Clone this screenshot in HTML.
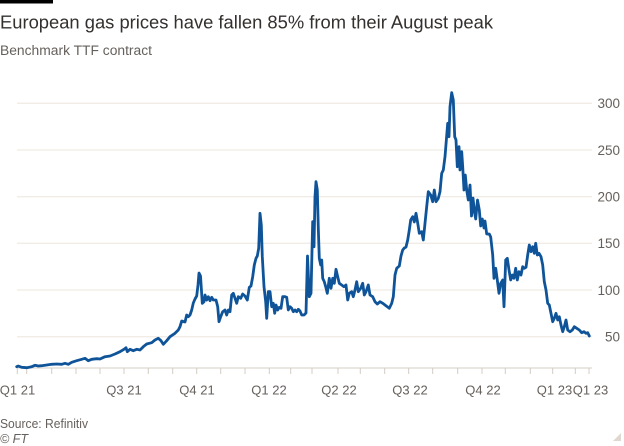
<!DOCTYPE html>
<html>
<head>
<meta charset="utf-8">
<style>
  html, body { margin: 0; padding: 0; background: #ffffff; }
  body { width: 624px; height: 446px; overflow: hidden; }
  svg { display: block; }
  text { font-family: "Liberation Sans", "DejaVu Sans", sans-serif; }
</style>
</head>
<body>
<svg width="624" height="446" viewBox="0 0 624 446" xmlns="http://www.w3.org/2000/svg">
  <rect x="0" y="0" width="624" height="446" fill="#ffffff"/>
  <rect x="0" y="0" width="53" height="3.5" fill="#000000"/>

  <text x="0" y="28.3" font-size="18.5" fill="#33302e" textLength="493" lengthAdjust="spacingAndGlyphs">European gas prices have fallen 85% from their August peak</text>
  <text x="0" y="55" font-size="13.5" fill="#66605c" textLength="152" lengthAdjust="spacingAndGlyphs">Benchmark TTF contract</text>

  <g stroke="#ede5de" stroke-width="1">
    <line x1="17" y1="103.3" x2="592" y2="103.3"/>
    <line x1="17" y1="150" x2="592" y2="150"/>
    <line x1="17" y1="196.7" x2="592" y2="196.7"/>
    <line x1="17" y1="243.3" x2="592" y2="243.3"/>
    <line x1="17" y1="290" x2="592" y2="290"/>
    <line x1="17" y1="336.7" x2="592" y2="336.7"/>
  </g>

  <g font-size="13.5" fill="#66605c" text-anchor="end">
    <text x="620" y="108.2">300</text>
    <text x="620" y="154.9">250</text>
    <text x="620" y="201.6">200</text>
    <text x="620" y="248.2">150</text>
    <text x="620" y="294.9">100</text>
    <text x="620" y="341.6">50</text>
  </g>

  <line x1="17" y1="368" x2="592" y2="368" stroke="#d4ccc4" stroke-width="1"/>
  <g stroke="#d4ccc4" stroke-width="1">
    <line x1="17.3" y1="368" x2="17.3" y2="374"/>
    <line x1="26.7" y1="368" x2="26.7" y2="374"/>
    <line x1="51.7" y1="368" x2="51.7" y2="374"/>
    <line x1="76" y1="368" x2="76" y2="374"/>
    <line x1="100" y1="368" x2="100" y2="374"/>
    <line x1="124" y1="368" x2="124" y2="374"/>
    <line x1="148.3" y1="368" x2="148.3" y2="374"/>
    <line x1="172.7" y1="368" x2="172.7" y2="374"/>
    <line x1="196.7" y1="368" x2="196.7" y2="374"/>
    <line x1="220.7" y1="368" x2="220.7" y2="374"/>
    <line x1="245" y1="368" x2="245" y2="374"/>
    <line x1="269.3" y1="368" x2="269.3" y2="374"/>
    <line x1="290.7" y1="368" x2="290.7" y2="374"/>
    <line x1="312" y1="368" x2="312" y2="374"/>
    <line x1="338" y1="368" x2="338" y2="374"/>
    <line x1="360.3" y1="368" x2="360.3" y2="374"/>
    <line x1="384.7" y1="368" x2="384.7" y2="374"/>
    <line x1="408.7" y1="368" x2="408.7" y2="374"/>
    <line x1="432.7" y1="368" x2="432.7" y2="374"/>
    <line x1="457.7" y1="368" x2="457.7" y2="374"/>
    <line x1="482" y1="368" x2="482" y2="374"/>
    <line x1="505.3" y1="368" x2="505.3" y2="374"/>
    <line x1="530.3" y1="368" x2="530.3" y2="374"/>
    <line x1="552.7" y1="368" x2="552.7" y2="374"/>
    <line x1="575.3" y1="368" x2="575.3" y2="374"/>
    <line x1="589" y1="368" x2="589" y2="374"/>
  </g>

  <g font-size="13" fill="#66605c" text-anchor="middle">
    <text x="17.5" y="394.5">Q1 21</text>
    <text x="124" y="394.5">Q3 21</text>
    <text x="197" y="394.5">Q4 21</text>
    <text x="269" y="394.5">Q1 22</text>
    <text x="339" y="394.5">Q2 22</text>
    <text x="410" y="394.5">Q3 22</text>
    <text x="483" y="394.5">Q4 22</text>
    <text x="554.5" y="394.5">Q1 23</text>
    <text x="590.5" y="394.5">Q1 23</text>
  </g>

  <polyline fill="none" stroke="#0f5499" stroke-width="2.8" stroke-linejoin="round" stroke-linecap="round"
    points="16.7,366.7 18.3,366 21.7,367.3 26.7,367.7 31.7,366.7 35,365.3 38.3,366 41.7,365.7 46.7,365 51.7,364.3 56.7,364 61.7,364.3 65,363.3 68.3,364.3 71.7,362.3 76.7,360.7 81.7,359.3 85,358.3 88.3,360.7 91.7,359.3 96.7,358.7 100,359 105,356.7 110,356 115,354 120,351.7 124,349.3 126,347.7 127.3,351.7 130,349.3 133.3,350.7 136.7,349.3 140,350 143.3,346.7 146.7,344 151.7,342.7 155,340 158.3,338.3 161,340.7 163.3,344.3 166.7,340.7 170,336.7 175,333.3 178.3,330 180,326.7 181.7,321 183.3,321.5 185,322 186.7,315 188.3,316.7 190,315 191.7,310 193.3,303 195,299 196.7,296 198,285 199,273 200.5,276 202.3,303.3 204,301.7 205,295 206.7,300 208.3,296.7 210,300.7 211.7,297.3 213.3,300 216,300 217.7,306.7 219,321.7 220.7,316.7 222.7,311.7 225,310 226.7,315 228.3,310 230,311.7 231.7,295 233.3,293.3 235,298.3 236.7,303.3 238.3,296.7 240.7,298.3 242.7,294 245,296 247.3,300 249.3,287.3 251,286 252.7,276.7 254.3,265 256,258.3 257.3,256 258.7,248.3 260,213.3 261.3,225 262.3,256.7 264,286.7 265.7,301.7 266.7,318.3 268.3,291.7 270,291.7 271.7,306.7 273.3,303.3 274.7,313.3 276,305 277.7,310 279.3,307.3 281,308.3 282.7,296.7 285,296.7 286.7,297.3 288.3,310 290,306.7 291.7,308.3 293.3,311.7 295,310 296.7,311.7 298.3,309.3 300,311 301.7,315 304,315 306,313 307.5,256 309.3,296.7 311,293.3 312.7,221.7 314,246.7 315,196.7 316,181.7 317.3,190 318.3,228.3 319.3,258.3 320.7,265 321.7,260 322.7,278.3 324.3,281.7 325.7,286.7 327.3,293.3 329.3,278.3 331,288.3 332.7,278.3 334.3,283.3 336,269.3 337.7,276.7 339.3,283.3 341.7,285 344,286.7 346,285 347.7,300 349.3,293.3 351.7,291.7 353.3,296.7 355,290 356.7,281.7 358.3,291.7 360.7,288.3 362.7,283.3 364.3,295 366,291.7 368.3,285 370,295 372.7,296.7 375,301.7 377.3,304 380,301.7 382.7,303.3 385,305 387.3,306.7 389.3,308.3 391.7,303.3 393.3,296.7 395,275 396.7,268.3 399.3,266 401,256 402.7,250 404.3,248 406,247 407.7,240 409.3,230 410.7,220 412.7,216.7 414.3,222 416,213.3 417.7,223 419.3,233.3 421.7,231.7 423.3,240 425,223.3 426.7,206.7 428.3,191.7 430.7,195 432.7,201.7 434.3,190 436,201.7 438.3,198.3 440,191.7 441.7,173.3 443.3,170 445,156.7 447.7,123.3 449,136.7 450,106.7 451.7,92.7 453.3,100 454.7,136.7 456,140 457.3,166.7 459,146.7 460,170 461.7,151.7 462.7,166.7 464,190 465.3,175 466.7,190 468.3,200 470,185 471.5,216 473,198 474.5,212 475.7,219 477.5,200 479.3,210 480.7,226 482.3,219 484,228 485,221 486.7,234 489.3,234 490.7,237 492.7,255 494,278.3 495.7,268.3 497.3,280 499,293.3 500.7,283.3 502.7,280 504,306.7 505.7,260 507.3,258.3 509,270 510.7,280 512.3,275 514,278.3 515.7,268.3 517.3,280 519,271.7 521,275 522.7,266.7 524.3,268.3 526,267.3 527.7,255 529.3,245 531,251.7 532.7,246.7 534.3,253.3 535.7,243.3 537.3,255 539,253.3 541,256.7 542.7,265 544.3,281.7 546,290 547.7,303.3 549.3,305 551,313.3 552.7,321.7 554.3,318.3 556,313.3 557.7,320 559.3,316.7 561,325 562.7,331.7 564.3,326.7 566,320 567.7,330 570,331.7 572.3,330 574.3,326.7 576.7,328.3 579.3,330 581.7,332.7 584,331.7 586,333.3 587.7,332.7 589.3,336"/>

  <text x="0" y="428" font-size="12.5" fill="#66605c" textLength="88" lengthAdjust="spacingAndGlyphs">Source: Refinitiv</text>
  <text x="0" y="443" font-size="12.5" font-style="italic" fill="#66605c">© FT</text>
  <polygon points="621,433 621,441 613,441" fill="#e0d8d0"/>
</svg>
</body>
</html>
